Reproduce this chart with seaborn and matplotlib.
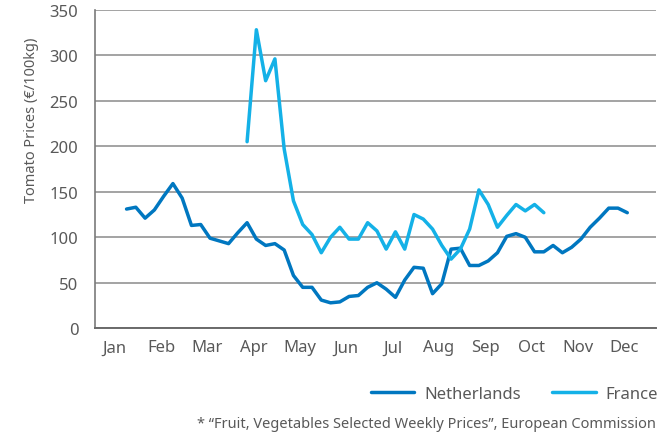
import pandas as pd
import numpy as np
import matplotlib
matplotlib.use("Agg")
import matplotlib.pyplot as plt
import seaborn as sns
from matplotlib.lines import Line2D

months = ["Jan", "Feb", "Mar", "Apr", "May", "Jun", "Jul", "Aug", "Sep", "Oct", "Nov", "Dec"]

netherlands = [131, 133, 121, 130, 145, 159, 143, 113, 114, 99, 96, 93, 105, 116,
               98, 91, 93, 86, 58, 45, 45, 31, 28, 29, 35, 36, 45, 50, 43, 34,
               53, 67, 66, 38, 49, 87, 88, 69, 69, 74, 83, 101, 104, 100, 84,
               84, 91, 83, 89, 98, 111, 121, 132, 132, 127]

france_start = 13
france = [205, 328, 272, 296, 197, 140, 114, 103, 83, 100, 111, 98, 98, 116, 107,
          87, 106, 87, 125, 120, 109, 91, 76, 87, 109, 152, 136, 111, 124, 136,
          129, 136, 127]

nl = pd.DataFrame({"week": np.arange(len(netherlands)), "price": netherlands, "country": "Netherlands"})
fr = pd.DataFrame({"week": np.arange(len(france)) + france_start, "price": france, "country": "France"})
df = pd.concat([nl, fr], ignore_index=True)

sns.set_style("white")
plt.rcParams["font.family"] = ["Noto Sans", "DejaVu Sans"]
grey = "#595959"
colors = {"Netherlands": "#0077C0", "France": "#14B1E7"}

fig = plt.figure(figsize=(6.58, 4.39), dpi=100)
ax = fig.add_axes([0.1444, 0.2499, 0.8526, 0.7257])

sns.lineplot(data=df, x="week", y="price", hue="country", palette=colors,
             linewidth=2.5, ax=ax, legend=False)

# axes / grid
ax.set_ylim(0, 350)
ax.set_xlim(-3.4, 57.1)
ax.set_yticks(range(0, 351, 50))
ax.yaxis.grid(True, color="#8a8a8a", linewidth=1.1)
ax.set_axisbelow(True)
for s in ["top", "right"]:
    ax.spines[s].set_visible(False)
ax.spines["left"].set_color("#7a7a7a")
ax.spines["bottom"].set_color("#6a6a6a")
ax.spines["left"].set_linewidth(1.2)
ax.spines["bottom"].set_linewidth(1.4)

# month labels spread evenly along the axis
ax.set_xticks(np.arange(12) * 4.99 - 1.26)
ax.set_xticklabels(months)
ax.tick_params(axis="both", length=0, labelsize=12, colors=grey, pad=8)
ax.tick_params(axis="y", pad=12)
ax.set_xlabel("")
ax.set_ylabel("")

fig.text(32 / 658, 1 - 120 / 439, "Tomato Prices (€/100kg)", rotation=90,
         ha="center", va="center", fontsize=10.5, color=grey)

# legend
handles = [Line2D([], [], color=colors["Netherlands"], lw=2.5),
           Line2D([], [], color=colors["France"], lw=2.5)]
fig.legend(handles, ["Netherlands", "France"], ncol=2, frameon=False,
           loc="center right", bbox_to_anchor=(1.0, 1 - 395 / 439),
           fontsize=12, labelcolor=grey, handlelength=2.6, columnspacing=1.9,
           handletextpad=0.6, borderaxespad=0, borderpad=0)

fig.text(656 / 658, 1 - 425 / 439,
         "* \u201cFruit, Vegetables Selected Weekly Prices\u201d, European Commission",
         ha="right", va="center", fontsize=10.5, color=grey)

plt.savefig("out.png", dpi=100)
